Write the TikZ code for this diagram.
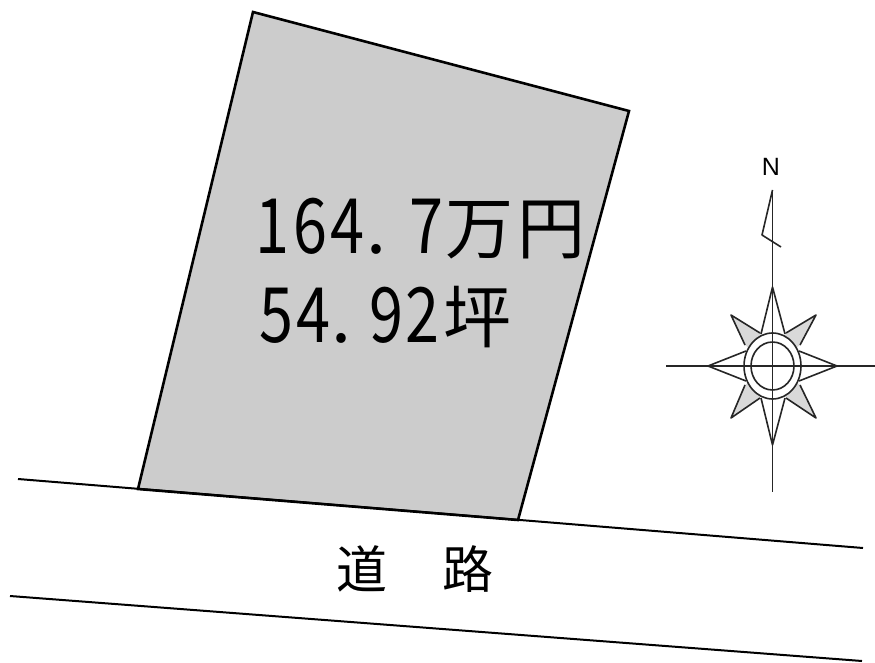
\documentclass[tikz,border=0pt]{standalone}
\usepackage{fontspec}
\usepackage{graphicx}
\setmainfont{Noto Sans CJK JP}
\newfontfamily\latinsans{Liberation Sans}
\newcommand{\dgone}[1]{\makebox[37.5pt]{\scalebox{0.85}[1.06]{#1}}}
\newcommand{\dgtwo}[1]{\makebox[36.5pt]{\scalebox{0.85}[1.06]{#1}}}
\newcommand{\kj}[1]{{\fontsize{68}{68}\selectfont\makebox[72pt]{#1}}}
\tikzset{
  lot/.style={draw=black,line width=2.6pt,fill=black!20,line join=miter},
  road/.style={draw=black,line width=2pt},
  compass/.style={draw=black!85,line width=1.6pt,line join=round},
  wedge/.style={fill=black!15,draw=none},
  lbl/.style={inner sep=0pt,anchor=base west,text=black,font=\fontsize{72}{72}\selectfont},
  roadlbl/.style={inner sep=0pt,text=black,font=\fontsize{51}{51}\selectfont},
}
\begin{document}
\begin{tikzpicture}[x=1pt,y=-1pt]
\useasboundingbox (0,0) rectangle (875,663);
\coordinate (l1) at (253,12); \coordinate (l2) at (629,111);
\coordinate (l3) at (518,520); \coordinate (l4) at (138,489);
\draw[lot] (l1) -- (l2) -- (l3) -- (l4) -- cycle;
\coordinate (r1) at (18,479); \coordinate (r2) at (863,548);
\coordinate (r3) at (10,596); \coordinate (r4) at (862,661);
\draw[road] (r1) -- (r2);
\draw[road] (r3) -- (r4);
\node[lbl] (price) at (254,253) {\dgone{1}\dgone{6}\dgone{4}\makebox[41.5pt][l]{.}\dgone{7}\hspace{-2pt}\kj{万}\kj{円}};
\node[lbl] (area) at (258.5,342) {\dgtwo{5}\dgtwo{4}\makebox[36.5pt][l]{.}\dgtwo{9}\dgtwo{2}\kj{坪}};
\node[roadlbl] (dou) at (362,569) {道};
\node[roadlbl] (ro) at (468,569) {路};
\node[inner sep=0pt,font=\latinsans\fontsize{25}{25}\selectfont] (n) at (771,167) {N};
% compass
\coordinate (c) at (772.5,366);
\fill[wedge] (c) -- (760,333) -- (731,315) -- (745,345) -- cycle;
\fill[wedge] (c) -- (786,333) -- (816,315) -- (800,345) -- cycle;
\fill[wedge] (c) -- (760,398) -- (731,418) -- (745,385) -- cycle;
\fill[wedge] (c) -- (786,398) -- (816,418) -- (800,385) -- cycle;
\fill[white] (c) ellipse [x radius=28.5,y radius=33];
\draw[compass] (772.5,190) -- (772.5,492);
\draw[compass] (666,366) -- (875,366);
\draw[compass] (708,366) -- (837,366);
\draw[compass] (772.5,190) -- (762,235) -- (781,247);
\draw[compass] (c) ellipse [x radius=28.5,y radius=33];
\draw[compass] (c) ellipse [x radius=21.5,y radius=24];
\draw[compass] (761,334) -- (772.5,287) -- (785,334);
\draw[compass] (761,398) -- (772.5,445) -- (785,398);
\draw[compass] (746,351) -- (708,366) -- (746,381);
\draw[compass] (799,351) -- (837,366) -- (799,381);
\draw[compass] (760,333) -- (731,315) -- (745,345);
\draw[compass] (786,333) -- (816,315) -- (800,345);
\draw[compass] (760,398) -- (731,418) -- (745,385);
\draw[compass] (786,398) -- (816,418) -- (800,385);
\end{tikzpicture}
\end{document}
